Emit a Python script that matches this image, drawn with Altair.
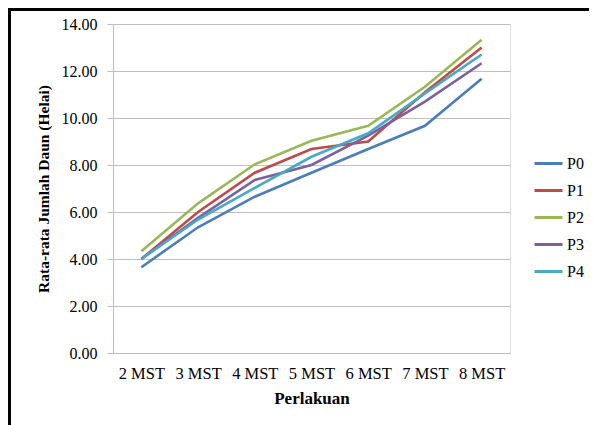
import altair as alt
import pandas as pd

weeks = ["2 MST", "3 MST", "4 MST", "5 MST", "6 MST", "7 MST", "8 MST"]
series_names = ["P0", "P1", "P2", "P3", "P4"]
p0 = [3.65, 5.35, 6.65, 7.67, 8.68, 9.67, 11.67]
p1 = [4.00, 6.00, 7.67, 8.68, 9.00, 11.10, 13.00]
p2 = [4.33, 6.37, 8.03, 9.03, 9.67, 11.33, 13.33]
p3 = [4.00, 5.75, 7.36, 8.00, 9.25, 10.70, 12.33]
p4 = [4.00, 5.68, 7.03, 8.35, 9.35, 11.05, 12.70]
colors = ["#4A7EBB", "#BE4B48", "#98B954", "#7D60A0", "#46AAC5"]

rows = []
for name, vals in zip(series_names, [p0, p1, p2, p3, p4]):
    for w, v in zip(weeks, vals):
        rows.append({"Perlakuan": w, "Seri": name, "Nilai": v})
df = pd.DataFrame(rows)

FONT = "Times New Roman, Liberation Serif, serif"

lines = alt.Chart(df).mark_line(strokeWidth=2.6).encode(
    x=alt.X("Perlakuan:N", sort=weeks,
            scale=alt.Scale(type="point", padding=0.5),
            axis=alt.Axis(title="Perlakuan", labelAngle=0, ticks=False,
                          grid=False, domainColor="#BFBFBF",
                          labelFont=FONT, labelFontSize=16.5, labelColor="#000000",
                          labelPadding=12, titleFont=FONT, titleFontSize=17,
                          titleFontWeight="bold", titleColor="#000000",
                          titlePadding=9)),
    y=alt.Y("Nilai:Q", scale=alt.Scale(domain=[0, 14]),
            axis=alt.Axis(title="Rata-rata Jumlah Daun (Helai)", format=".2f",
                          values=[0, 2, 4, 6, 8, 10, 12, 14],
                          tickSize=6, tickColor="#BFBFBF", domainColor="#BFBFBF",
                          gridColor="#BFBFBF", labelFont=FONT, labelFontSize=16,
                          labelColor="#000000", labelPadding=10,
                          titleFont=FONT, titleFontSize=15.5, titleFontWeight="bold",
                          titleColor="#000000", titlePadding=10)),
    color=alt.Color("Seri:N", sort=series_names,
                    scale=alt.Scale(domain=series_names, range=colors),
                    legend=alt.Legend(title=None, orient="none", legendX=420,
                                      legendY=124, symbolType="stroke",
                                      symbolSize=784, symbolStrokeWidth=3,
                                      labelFont=FONT, labelFontSize=16,
                                      labelColor="#000000", rowPadding=3,
                                      labelOffset=3)),
)

dummy = pd.DataFrame({"a": [0]})
top_line = alt.Chart(dummy).mark_rule(color="#000000", strokeWidth=3).encode(
    x=alt.value(-104), x2=alt.value(490), y=alt.value(-14.5))
left_line = alt.Chart(dummy).mark_rule(color="#000000", strokeWidth=3).encode(
    x=alt.value(-103.5), y=alt.value(-16), y2=alt.value(430))

chart = alt.layer(lines, top_line, left_line).properties(
    width=397, height=329,
    autosize=alt.AutoSizeParams(type="none"),
    padding={"left": 105, "top": 16, "right": 79, "bottom": 72},
).configure_view(stroke=None).configure(font="Liberation Serif")

chart.save("out.html", embed_options={"renderer": "svg", "actions": False})
